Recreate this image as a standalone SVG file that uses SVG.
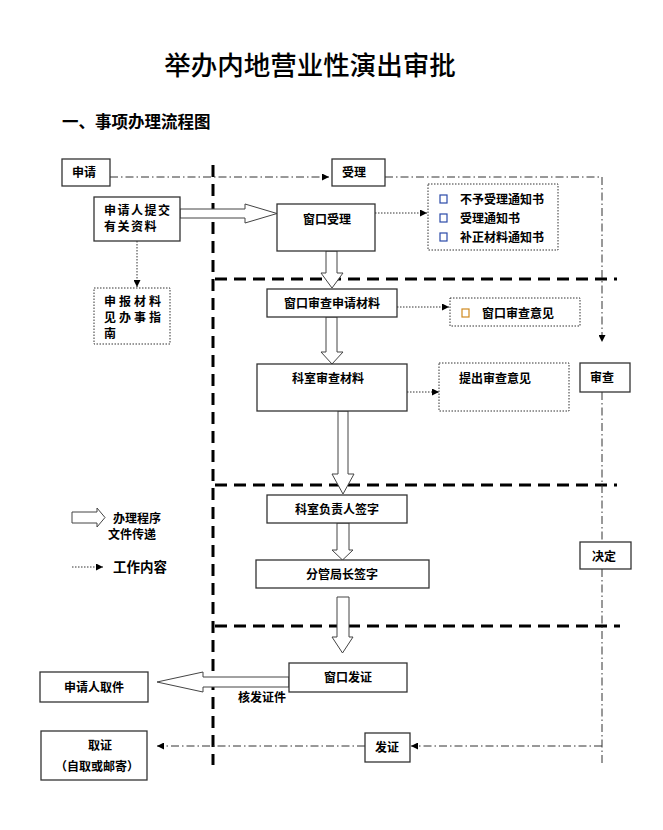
<svg xmlns="http://www.w3.org/2000/svg" width="663" height="830" viewBox="0 0 663 830">
<defs>
<marker id="ah" viewBox="0 0 10 10" refX="10" refY="5" markerWidth="7" markerHeight="7" markerUnits="userSpaceOnUse" orient="auto">
<path d="M0,0 L10,5 L0,10 Z" fill="#000"/>
</marker>
</defs>
<style>
text{font-family:"Noto Sans CJK SC","Noto Sans CJK JP",sans-serif;font-weight:bold;font-size:12px;fill:#000}
.box{fill:#fff;stroke:#333;stroke-width:1.3}
.dbox{fill:#fff;stroke:#333;stroke-width:1;stroke-dasharray:1.5 1.5}
.sep{fill:none;stroke:#000;stroke-width:3;stroke-dasharray:12 7}
.dd{fill:none;stroke:#333;stroke-width:1;stroke-dasharray:8 3 1.5 3}
.dot{fill:none;stroke:#333;stroke-width:1;stroke-dasharray:1.5 1.5}
.hol{fill:#fff;stroke:#444;stroke-width:1}
.c{text-anchor:middle}
.cb{fill:#fff;stroke:#2a4aa8;stroke-width:1.2}
.cbo{fill:#fff;stroke:#d08a20;stroke-width:1.2}
</style>
<rect width="663" height="830" fill="#fff"/>
<text x="310" y="75" class="c" style="font-size:26.5px;font-weight:500">举办内地营业性演出审批</text>
<text x="62" y="128" style="font-size:16.5px">一、事项办理流程图</text>

<g id="separators">
<path class="sep" d="M213,165 V765"/>
<path class="sep" d="M215,279 H617"/>
<path class="sep" d="M215,485 H617"/>
<path class="sep" d="M215,626 H620"/>
</g>

<g id="connectors">
<path class="dd" d="M110,177 H329" marker-end="url(#ah)"/>
<path class="dd" d="M385,177 H602 V342" marker-end="url(#ah)"/>
<path class="dd" d="M602,392 V542"/>
<path class="dd" d="M602,569 V765"/>
<path class="dd" d="M602,746 H411" marker-end="url(#ah)"/>
<path class="dd" d="M365,746 H157" marker-end="url(#ah)"/>
<path class="dot" d="M137,241 V287" marker-end="url(#ah)"/>
<path class="dot" d="M375,213 H427" marker-end="url(#ah)"/>
<path class="dot" d="M397,307 H449" marker-end="url(#ah)"/>
<path class="dot" d="M407,392 H439" marker-end="url(#ah)"/>
<path class="hol" d="M180,209 H245 V204 L277,213.5 L245,223 V218 H180 Z"/>
<path class="hol" d="M326,251 V273 H321 L332,288 L343,273 H337 V251 Z"/>
<path class="hol" d="M326,317 V352 H321 L332,364 L343,352 H337 V317 Z"/>
<path class="hol" d="M338,411 V474 H332 L343,494 L354,474 H348 V411 Z"/>
<path class="hol" d="M337,523 V550 H332 L342.5,560 L353,550 H349 V523 Z"/>
<path class="hol" d="M337,597 V637 H332 L342.5,653 L353,637 H349 V597 Z"/>
<path class="hol" d="M289,677 H203 V672 L157,682 L203,692 V687 H289 Z"/>
<text x="238" y="702">核发证件</text>
</g>

<g id="n-shenqing"><rect class="box" x="62" y="159" width="48" height="27"/><text x="72" y="177">申请</text></g>
<g id="n-shouli"><rect class="box" x="332" y="159" width="53" height="27"/><text x="342" y="177">受理</text></g>
<g id="n-tijiao"><rect class="box" x="94" y="197" width="86" height="44"/><text x="104" y="214.5" style="letter-spacing:1.5px">申请人提交</text><text x="104" y="230.5" style="letter-spacing:1.5px">有关资料</text></g>
<g id="n-shenbao"><rect class="dbox" x="94" y="288" width="76" height="56"/><text x="104" y="306" style="letter-spacing:3px">申报材料</text><text x="104" y="322" style="letter-spacing:3px">见办事指</text><text x="104" y="338">南</text></g>
<g id="n-chuangkoushouli"><rect class="box" x="277" y="204" width="98" height="47"/><text x="327" y="223.5" class="c">窗口受理</text></g>
<g id="n-tongzhishu"><rect class="dbox" x="428" y="184" width="130" height="66"/>
<rect class="cb" x="440" y="195" width="7" height="8"/><text x="460" y="203.5">不予受理通知书</text>
<rect class="cb" x="440" y="214" width="7" height="8"/><text x="460" y="222.5">受理通知书</text>
<rect class="cb" x="440" y="233" width="7" height="8"/><text x="460" y="241.5">补正材料通知书</text></g>
<g id="n-chuangkoushencha"><rect class="box" x="267" y="289" width="130" height="28"/><text x="332" y="307.5" class="c">窗口审查申请材料</text></g>
<g id="n-chuangkouyijian"><rect class="dbox" x="450" y="298" width="130" height="28"/><rect class="cbo" x="462" y="309" width="7" height="8"/><text x="482" y="317.5">窗口审查意见</text></g>
<g id="n-keshishencha"><rect class="box" x="257" y="364" width="150" height="47"/><text x="328" y="382.5" class="c">科室审查材料</text></g>
<g id="n-tichu"><rect class="dbox" x="439" y="363" width="130" height="48"/><text x="495" y="382.5" class="c">提出审查意见</text></g>
<g id="n-shencha"><rect class="box" x="580" y="363" width="50" height="29"/><text x="590" y="381.5">审查</text></g>
<g id="n-fuzeren"><rect class="box" x="267" y="495" width="140" height="28"/><text x="337" y="513.5" class="c">科室负责人签字</text></g>
<g id="n-juezhang"><rect class="box" x="256" y="560" width="173" height="28"/><text x="342" y="578.5" class="c">分管局长签字</text></g>
<g id="n-jueding"><rect class="box" x="580" y="542" width="51" height="27"/><text x="592" y="560.5">决定</text></g>
<g id="n-chuangkoufazheng"><rect class="box" x="289" y="663" width="118" height="29"/><text x="348" y="681.5" class="c">窗口发证</text></g>
<g id="n-quijan"><rect class="box" x="40" y="672" width="108" height="30"/><text x="94" y="691.5" class="c">申请人取件</text></g>
<g id="n-fazheng"><rect class="box" x="365" y="733" width="45" height="29"/><text x="375" y="751.5">发证</text></g>
<g id="n-quzheng"><rect class="box" x="41" y="731" width="106" height="49"/><text x="100" y="749.5" class="c">取证</text><text x="97" y="770.5" class="c">（自取或邮寄）</text></g>

<g id="legend">
<path class="hol" d="M72,512 H97 V508 L105,517.5 L97,527 V523 H72 Z"/>
<text x="113" y="522.5">办理程序</text>
<text x="108" y="538.5">文件传递</text>
<path class="dot" d="M72,567 H103" marker-end="url(#ah)"/>
<text x="113" y="572" style="font-size:13.5px">工作内容</text>
</g>
</svg>
